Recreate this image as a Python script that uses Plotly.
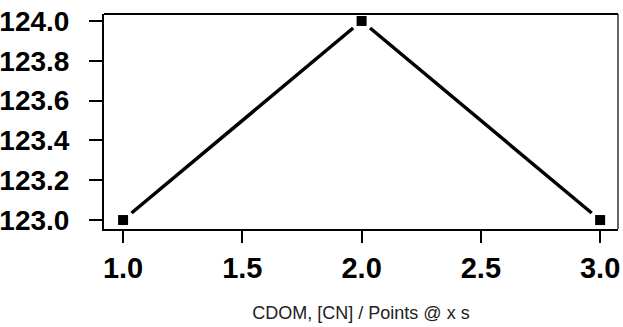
import numpy as np
import plotly.graph_objects as go

# data
x_values = [1.0, 2.0, 3.0]
y_values = [123.0, 124.0, 123.0]
x_ticks = [1.0, 1.5, 2.0, 2.5, 3.0]
y_ticks = [123.0, 123.2, 123.4, 123.6, 123.8, 124.0]
x_title = "CDOM, [CN] / Points @ x s"

font_family = "Liberation Sans, Arial, sans-serif"

width, height = 623, 327
margin = dict(l=104, r=5, t=14, b=98)
x_range = [0.92, 3.075]
y_range = [122.955, 124.035]


def gapped_segments(xs, ys, gap_px=11.0):
    """Line between points that stops gap_px short of every point (Igor-style)."""
    x_scale = (width - margin["l"] - margin["r"]) / (x_range[1] - x_range[0])
    y_scale = (height - margin["t"] - margin["b"]) / (y_range[1] - y_range[0])
    seg_x, seg_y = [], []
    for i in range(len(xs) - 1):
        dx = (xs[i + 1] - xs[i]) * x_scale
        dy = (ys[i + 1] - ys[i]) * y_scale
        frac = gap_px / np.hypot(dx, dy)
        seg_x += [xs[i] + frac * (xs[i + 1] - xs[i]), xs[i + 1] - frac * (xs[i + 1] - xs[i]), None]
        seg_y += [ys[i] + frac * (ys[i + 1] - ys[i]), ys[i + 1] - frac * (ys[i + 1] - ys[i]), None]
    return seg_x, seg_y


line_x, line_y = gapped_segments(x_values, y_values)

fig = go.Figure()

fig.add_trace(go.Scatter(
    x=line_x, y=line_y, mode="lines", connectgaps=False,
    line=dict(color="black", width=3.5),
    showlegend=False, hoverinfo="skip",
))
fig.add_trace(go.Scatter(
    x=x_values, y=y_values, mode="markers",
    marker=dict(symbol="square", size=10, color="black", line=dict(width=0)),
    showlegend=False,
))

fig.update_xaxes(
    range=x_range, automargin=False,
    tickvals=x_ticks, tickformat=".1f",
    showgrid=False, zeroline=False,
    showline=True, linecolor="black", linewidth=2,
    ticks="outside", ticklen=12, tickwidth=1.5, tickcolor="black",
    tickfont=dict(family=font_family, size=29, color="black", weight="bold"),
    title=dict(text=x_title, font=dict(family=font_family, size=18, color="#222"), standoff=24),
)
fig.update_yaxes(
    range=y_range, automargin=False,
    tickvals=y_ticks, tickformat=".1f",
    showgrid=False, zeroline=False,
    showline=True, linecolor="black", linewidth=2,
    ticks="outside", ticklen=13, tickwidth=1.5, tickcolor="black",
    ticklabelstandoff=14,
    tickfont=dict(family=font_family, size=28, color="black", weight="bold"),
)

# top frame line (same weight as axes) and a thin right edge
fig.add_shape(type="line", xref="paper", yref="paper", x0=0, x1=1, y0=1, y1=1,
              line=dict(color="black", width=2))
fig.add_shape(type="line", xref="paper", yref="paper", x0=1, x1=1, y0=0, y1=1,
              line=dict(color="black", width=1.2))

fig.update_layout(
    width=width, height=height,
    margin=margin,
    plot_bgcolor="white", paper_bgcolor="white",
)

# page has a default 8px body margin; drop it so the figure sits at the corner
fig.write_html("out.html", config={"displayModeBar": False},
               post_script="document.body.style.margin='0';")
